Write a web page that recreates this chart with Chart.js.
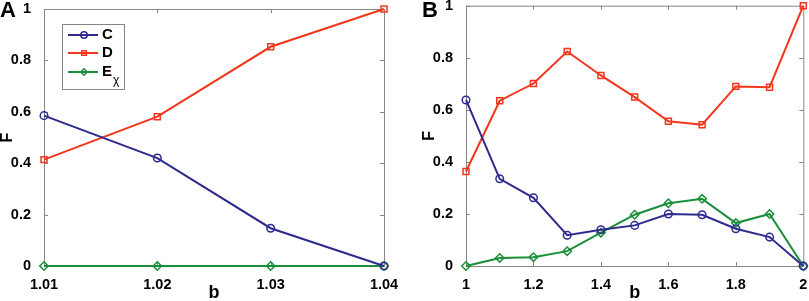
<!DOCTYPE html>
<html>
<head>
<meta charset="utf-8">
<script src="https://cdn.jsdelivr.net/npm/chart.js@4.4.1/dist/chart.umd.min.js"></script>
<style>
html, body { margin: 0; padding: 0; background: #fff; }
#wrapA { position: absolute; left: 0; top: 0; width: 400px; height: 301px; }
#wrapB { position: absolute; left: 400px; top: 0; width: 409px; height: 301px; }
</style>
</head>
<body>
<div id="wrapA"><canvas id="chartA" width="400" height="301"></canvas></div>
<div id="wrapB"><canvas id="chartB" width="409" height="301"></canvas></div>
<script>
// panel A
var bA = [1.01, 1.02, 1.03, 1.04];
var cA = [0.585, 0.42, 0.147, 0];
var dA = [0.414, 0.581, 0.853, 1];
var eA = [0, 0, 0, 0];

// panel B
var bB = [1, 1.1, 1.2, 1.3, 1.4, 1.5, 1.6, 1.7, 1.8, 1.9, 2];
var cB = [0.638, 0.335, 0.262, 0.118, 0.139, 0.156, 0.2, 0.197, 0.143, 0.111, 0];
var dB = [0.363, 0.635, 0.701, 0.824, 0.732, 0.649, 0.556, 0.543, 0.69, 0.687, 1];
var eB = [0, 0.031, 0.034, 0.057, 0.128, 0.197, 0.241, 0.258, 0.165, 0.2, 0];

var xTicksA = [1.01, 1.02, 1.03, 1.04];
var xTicksB = [1, 1.2, 1.4, 1.6, 1.8, 2];
var yTicks = [0, 0.2, 0.4, 0.6, 0.8, 1];

var seriesNames = ['C', 'D', 'E'];
var seriesSub = ['', '', 'χ'];
var seriesColors = ['#2e2a8e', '#f3361c', '#1a8f3a'];
var seriesMarkers = ['circle', 'rect', 'rectRot'];
var markerRadius = [3.8, 4.2, 4.2];

const fontFam = '"Liberation Sans", Arial, sans-serif';
const frameColor = '#858585';

function toPoints(xs, ys) {
    return xs.map(function(x, i) { return {x: x, y: ys[i]}; });
}

function makeDatasets(xs, series) {
    return series.map(function(ys, i) {
        return {
            label: seriesNames[i],
            data: toPoints(xs, ys),
            borderColor: seriesColors[i],
            borderWidth: 2,
            pointStyle: seriesMarkers[i],
            pointRadius: markerRadius[i],
            pointBorderWidth: 1.5,
            pointBorderColor: seriesColors[i],
            pointBackgroundColor: 'rgba(0,0,0,0)',
            tension: 0,
            clip: false
        };
    });
}

function drawMarker(ctx, style, r, x, y) {
    ctx.beginPath();
    if (style === 'circle') {
        ctx.arc(x, y, r, 0, Math.PI * 2);
    } else if (style === 'rect') {
        var s = r * Math.SQRT1_2;
        ctx.rect(x - s, y - s, 2 * s, 2 * s);
    } else {
        ctx.moveTo(x, y - r); ctx.lineTo(x + r, y); ctx.lineTo(x, y + r); ctx.lineTo(x - r, y); ctx.closePath();
    }
    ctx.stroke();
}

var frameBox = {
    id: 'frameBox',
    beforeDatasetsDraw: function(chart) {
        var ctx = chart.ctx, a = chart.chartArea, xs = chart.scales.x, ys = chart.scales.y;
        ctx.save();
        ctx.strokeStyle = frameColor;
        ctx.lineWidth = 1;
        ctx.strokeRect(a.left + 0.5, a.top + 0.5, a.right - a.left, a.bottom - a.top);
        ctx.beginPath();
        xs.ticks.forEach(function(t) {
            var px = Math.round(xs.getPixelForValue(t.value)) + 0.5;
            ctx.moveTo(px, a.bottom); ctx.lineTo(px, a.bottom - 4);
            ctx.moveTo(px, a.top); ctx.lineTo(px, a.top + 4);
        });
        ys.ticks.forEach(function(t) {
            var py = Math.round(ys.getPixelForValue(t.value)) + 0.5;
            ctx.moveTo(a.left, py); ctx.lineTo(a.left + 4, py);
            ctx.moveTo(a.right, py); ctx.lineTo(a.right - 4, py);
        });
        ctx.stroke();
        ctx.restore();
    },
    afterDraw: function(chart, args, opts) {
        var ctx = chart.ctx;
        ctx.save();
        ctx.fillStyle = '#000';
        ctx.font = 'bold 22px ' + fontFam;
        ctx.textBaseline = 'top';
        ctx.fillText(opts.letter, opts.letterX, 0);
        if (opts.legend) {
            var lx = 62, ly = 24, lw = 62, lh = 65;
            ctx.fillStyle = '#fff';
            ctx.fillRect(lx, ly, lw, lh);
            ctx.strokeStyle = frameColor;
            ctx.lineWidth = 1;
            ctx.strokeRect(lx + 0.5, ly + 0.5, lw, lh);
            var rows = [35, 53, 72];
            chart.data.datasets.forEach(function(ds, i) {
                var y = rows[i];
                ctx.strokeStyle = ds.borderColor;
                ctx.lineWidth = 2;
                ctx.beginPath(); ctx.moveTo(68, y); ctx.lineTo(98, y); ctx.stroke();
                ctx.lineWidth = 1.5;
                drawMarker(ctx, ds.pointStyle, 3.2, 84, y);
                ctx.fillStyle = '#000';
                ctx.textBaseline = 'middle';
                ctx.font = 'bold 15px ' + fontFam;
                ctx.fillText(seriesNames[i], 102, y);
                if (seriesSub[i]) {
                    ctx.font = '12px ' + fontFam;
                    ctx.fillText(seriesSub[i], 113, y + 9);
                }
            });
        }
        ctx.restore();
    }
};

function makeChart(id, xs, series, xTicks, cfg) {
    var tickFont = {family: fontFam, size: 14.5, weight: 'bold'};
    return new Chart(document.getElementById(id), {
        type: 'line',
        data: { datasets: makeDatasets(xs, series) },
        options: {
            responsive: false,
            animation: false,
            layout: { padding: {top: cfg.padTop, right: cfg.padRight, left: 0, bottom: 0} },
            plugins: {
                legend: { display: false },
                tooltip: { enabled: false },
                frameBox: { letter: cfg.letter, letterX: cfg.letterX, legend: cfg.legend }
            },
            scales: {
                x: {
                    type: 'linear',
                    min: xTicks[0],
                    max: xTicks[xTicks.length - 1],
                    afterBuildTicks: function(s) { s.ticks = xTicks.map(function(v) { return {value: v}; }); },
                    afterFit: function(s) { s.height = 35; s.paddingLeft = 0; s.paddingRight = 0; },
                    grid: { display: false },
                    border: { display: false },
                    ticks: { color: '#000', font: tickFont, padding: 2, maxRotation: 0, autoSkip: false,
                        callback: function(v) { return String(v); } },
                    title: { display: true, text: 'b', color: '#000',
                        font: {family: fontFam, size: 18, weight: 'bold', lineHeight: 1},
                        padding: {top: 0, bottom: -1} }
                },
                y: {
                    type: 'linear',
                    min: 0,
                    max: 1,
                    afterBuildTicks: function(s) { s.ticks = yTicks.map(function(v) { return {value: v}; }); },
                    afterFit: function(s) { s.width = cfg.yWidth; s.paddingTop = 0; s.paddingBottom = 0; },
                    grid: { display: false },
                    border: { display: false },
                    ticks: { color: '#000', font: tickFont, padding: 5, autoSkip: false,
                        callback: function(v) { return String(v); } },
                    title: { display: true, text: 'F', color: '#000',
                        font: {family: fontFam, size: 16, weight: 'bold', lineHeight: 1},
                        padding: {top: cfg.titlePad, bottom: 0} }
                }
            }
        },
        plugins: [frameBox]
    });
}

var chartA = makeChart('chartA', bA, [cA, dA, eA], xTicksA,
    {padTop: 9, padRight: 16, yWidth: 44, titlePad: 0, letter: 'A', letterX: 0, legend: true});
var chartB = makeChart('chartB', bB, [cB, dB, eB], xTicksB,
    {padTop: 4, padRight: 5, yWidth: 66, titlePad: 22, letter: 'B', letterX: 22, legend: false});
</script>
</body>
</html>
